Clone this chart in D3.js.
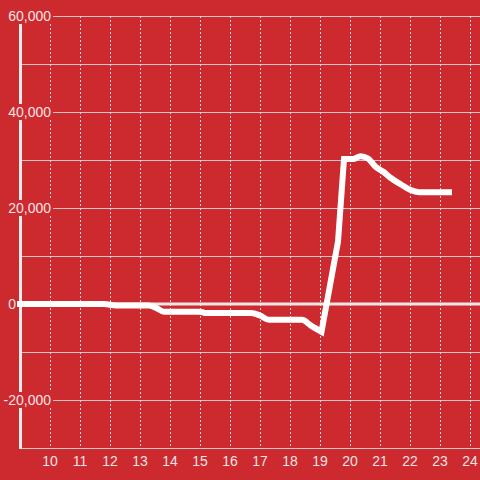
<!DOCTYPE html>
<html>
<head>
<meta charset="utf-8">
<script src="https://cdn.jsdelivr.net/npm/d3@7"></script>
<style>
	body { margin: 0; background: #cc2a2f; }
	text { font-family: 'Liberation Sans', Arial, sans-serif; font-size: 14px; fill: #f2e4e4; }
</style>
</head>
<body>
<div class="chart"></div>
<script>
// data
const xValues = [ 8.9, 11.8, 12.2, 13.3, 13.5, 13.8, 15.0, 15.2, 16.7, 17.0, 17.3, 18.4, 18.7, 19.05, 19.6, 19.8, 20.1, 20.35, 20.6, 20.85, 21.1, 21.35, 21.7, 22.0, 22.3, 23.4 ];
const yValues = [ 0, 0, -300, -300, -700, -1600, -1600, -1900, -1900, -2400, -3300, -3300, -4500, -5800, 13000, 30200, 30200, 30800, 30300, 28600, 27600, 26300, 24900, 23800, 23300, 23300 ];
const xTicks = [ 10, 11, 12, 13, 14, 15, 16, 17, 18, 19, 20, 21, 22, 23, 24 ];
const yGridTicks = [ -20000, -10000, 10000, 20000, 30000, 40000, 50000, 60000 ];
const yLabelTicks = [ -20000, 0, 20000, 40000, 60000 ];

const width = 480;
const height = 480;
const bg = '#cc2a2f';

const svg = d3.select('.chart').append('svg').attr('width', width).attr('height', height);

const x = d3.scaleLinear().domain([ 9, 24.3333 ]).range([ 20, 480 ]);
const y = d3.scaleLinear().domain([ -30000, 60000 ]).range([ 448, 16 ]);

svg.append('rect').attr('width', width).attr('height', height).attr('fill', bg);

// horizontal grid
svg
	.selectAll('.hgrid')
	.data(yGridTicks)
	.enter()
	.append('line')
	.attr('x1', x(9))
	.attr('x2', width)
	.attr('y1', (d) => y(d) + 0.5)
	.attr('y2', (d) => y(d) + 0.5)
	.attr('stroke', '#d9c4c4')
	.attr('stroke-width', 1);

// dotted vertical grid
svg
	.selectAll('.vgrid')
	.data(xTicks)
	.enter()
	.append('line')
	.attr('x1', (d) => Math.round(x(d)) + 0.5)
	.attr('x2', (d) => Math.round(x(d)) + 0.5)
	.attr('y1', y(60000))
	.attr('y2', y(-30000))
	.attr('stroke', '#ead8d8')
	.attr('stroke-width', 1)
	.attr('stroke-dasharray', '2,2');

// bottom axis line
svg
	.append('line')
	.attr('x1', x(9))
	.attr('x2', width)
	.attr('y1', y(-30000) + 0.5)
	.attr('y2', y(-30000) + 0.5)
	.attr('stroke', '#d9c4c4');

// zero line
svg
	.append('line')
	.attr('x1', x(9))
	.attr('x2', width)
	.attr('y1', y(0))
	.attr('y2', y(0))
	.attr('stroke', '#f0e6e6')
	.attr('stroke-width', 3);

// y axis line
svg
	.append('line')
	.attr('x1', x(9) + 0.5)
	.attr('x2', x(9) + 0.5)
	.attr('y1', y(60000))
	.attr('y2', y(-30000) + 1)
	.attr('stroke', '#f0ecec')
	.attr('stroke-width', 3);

// y labels with background boxes
const labelEnd = (d) => (d === 0 ? 16 : 51);
const yLabels = svg.selectAll('.ylabel').data(yLabelTicks).enter().append('g');
yLabels
	.append('rect')
	.attr('x', (d) => (d === 0 ? 6 : 2))
	.attr('y', (d) => y(d) - 8)
	.attr('width', (d) => (d === 0 ? 12 : 51))
	.attr('height', 16)
	.attr('fill', bg);
yLabels
	.append('text')
	.attr('x', labelEnd)
	.attr('y', (d) => y(d))
	.attr('dy', '0.35em')
	.style('text-anchor', 'end')
	.text((d) => d3.format(',')(d).replace('−', '-'));

// x labels
svg
	.selectAll('.xlabel')
	.data(xTicks)
	.enter()
	.append('text')
	.attr('x', (d) => x(d))
	.attr('y', 461)
	.attr('dy', '0.35em')
	.style('text-anchor', 'middle')
	.text((d) => d);

// data line: smooth steps, straight jump between 19.05 and 19.8
const points = xValues.map((d, i) => [ d, yValues[i] ]);
const jumpStart = xValues.indexOf(19.05);
const jumpEnd = xValues.indexOf(19.8);
const smoothLine = d3.line().curve(d3.curveMonotoneX).x((d) => x(d[0])).y((d) => y(d[1]));
const straightLine = d3.line().x((d) => x(d[0])).y((d) => y(d[1]));
const pathD =
	smoothLine(points.slice(0, jumpStart + 1)) +
	straightLine(points.slice(jumpStart, jumpEnd + 1)).replace(/^M/, 'L') +
	smoothLine(points.slice(jumpEnd)).replace(/^M/, 'L');
svg
	.append('path')
	.attr('d', pathD)
	.attr('fill', 'none')
	.attr('stroke', '#ffffff')
	.attr('stroke-width', 6)
	.attr('stroke-linejoin', 'miter');
</script>
</body>
</html>
